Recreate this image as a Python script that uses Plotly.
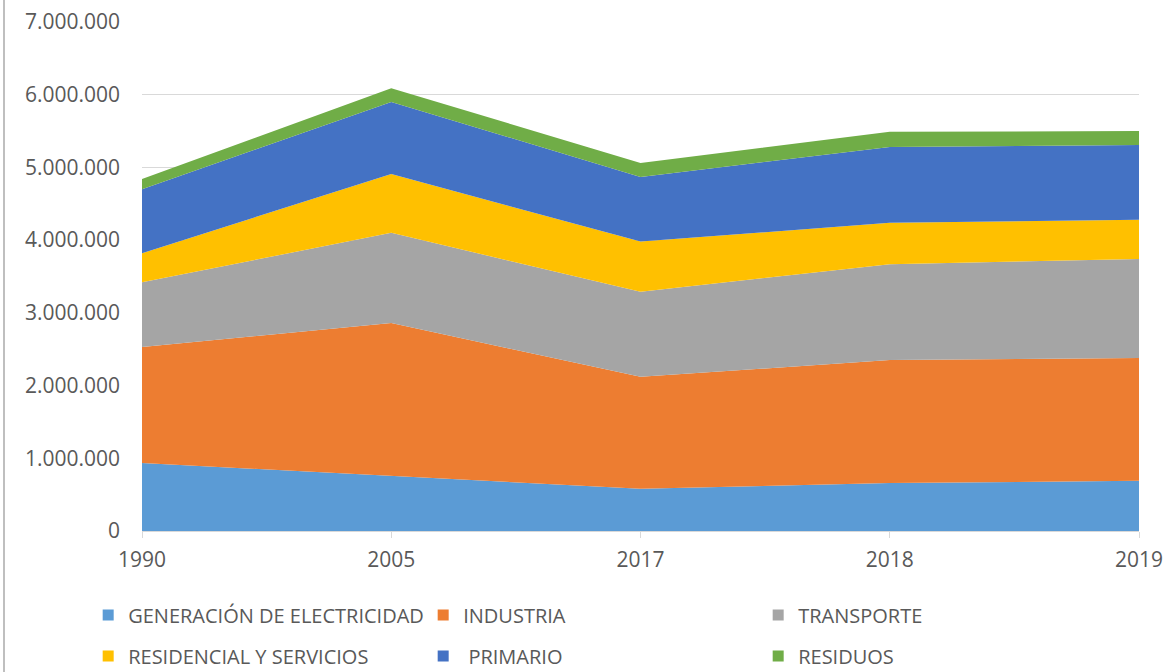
import plotly.graph_objects as go

years = ["1990", "2005", "2017", "2018", "2019"]
electricidad = [935000, 760000, 580000, 660000, 690000]
industria = [1595000, 2100000, 1540000, 1690000, 1690000]
transporte = [890000, 1240000, 1170000, 1320000, 1360000]
residencial = [400000, 810000, 690000, 570000, 540000]
primario = [880000, 990000, 890000, 1040000, 1030000]
residuos = [140000, 190000, 190000, 210000, 190000]

series = [
    ("GENERACIÓN DE ELECTRICIDAD", electricidad, "#5B9BD5", "legend"),
    ("INDUSTRIA", industria, "#ED7D31", "legend"),
    ("TRANSPORTE", transporte, "#A5A5A5", "legend"),
    ("RESIDENCIAL Y SERVICIOS", residencial, "#FFC000", "legend2"),
    (" PRIMARIO", primario, "#4472C4", "legend2"),
    ("RESIDUOS", residuos, "#70AD47", "legend2"),
]

fig = go.Figure()
for name, vals, color, lg in series:
    fig.add_trace(go.Scatter(
        x=years, y=vals, name=name, mode="lines", stackgroup="one",
        line=dict(width=0, color=color), fillcolor=color,
        showlegend=False, hoverinfo="x+y+name",
    ))
for name, vals, color, lg in series:
    fig.add_trace(go.Scatter(
        x=[None], y=[None], name=name, mode="markers",
        marker=dict(symbol="square", size=11, color=color),
        showlegend=True, legend=lg,
    ))

H0 = 531.0
PH = 509.0

def py(p):
    return (H0 - p) / PH

LX = -0.06 + 6 / 997

fig.update_layout(
    width=1166, height=672,
    margin=dict(l=142, r=27, t=22, b=141, autoexpand=False),
    paper_bgcolor="white", plot_bgcolor="white",
    separators=",.",
    font=dict(family="Open Sans", color="#595959", size=21),
    xaxis=dict(
        type="category", range=[0, 4], showgrid=False, automargin=False,
        showline=True, linecolor="#D9D9D9", linewidth=1,
        ticks="outside", ticklen=6, tickcolor="#D9D9D9",
        tickfont=dict(size=21, color="#595959"), ticklabelstandoff=4,
    ),
    yaxis=dict(
        range=[0, 7000000], dtick=1000000, tickformat=",d", automargin=False,
        showgrid=True, gridcolor="#D9D9D9", gridwidth=1,
        zeroline=False, showline=False,
        tickfont=dict(size=21, color="#595959"), ticklabelstandoff=21,
    ),
    legend=dict(
        orientation="h", x=LX, xanchor="left", y=py(615), yanchor="middle",
        entrywidth=290, entrywidthmode="pixels", traceorder="normal",
        font=dict(size=20, color="#595959"), bgcolor="rgba(0,0,0,0)",
    ),
    legend2=dict(
        orientation="h", x=LX, xanchor="left", y=py(656), yanchor="middle",
        entrywidth=290, entrywidthmode="pixels", traceorder="normal",
        font=dict(size=20, color="#595959"), bgcolor="rgba(0,0,0,0)",
    ),
    shapes=[dict(
        type="line", xref="paper", yref="paper",
        x0=(4 - 142) / 997, x1=(4 - 142) / 997, y0=py(0), y1=py(672),
        line=dict(color="#BFBFBF", width=2),
    )],
)

fig.write_html(
    "out.html",
    config={"displayModeBar": False},
    post_script="document.body.style.margin='0';document.body.style.overflow='hidden';",
)
